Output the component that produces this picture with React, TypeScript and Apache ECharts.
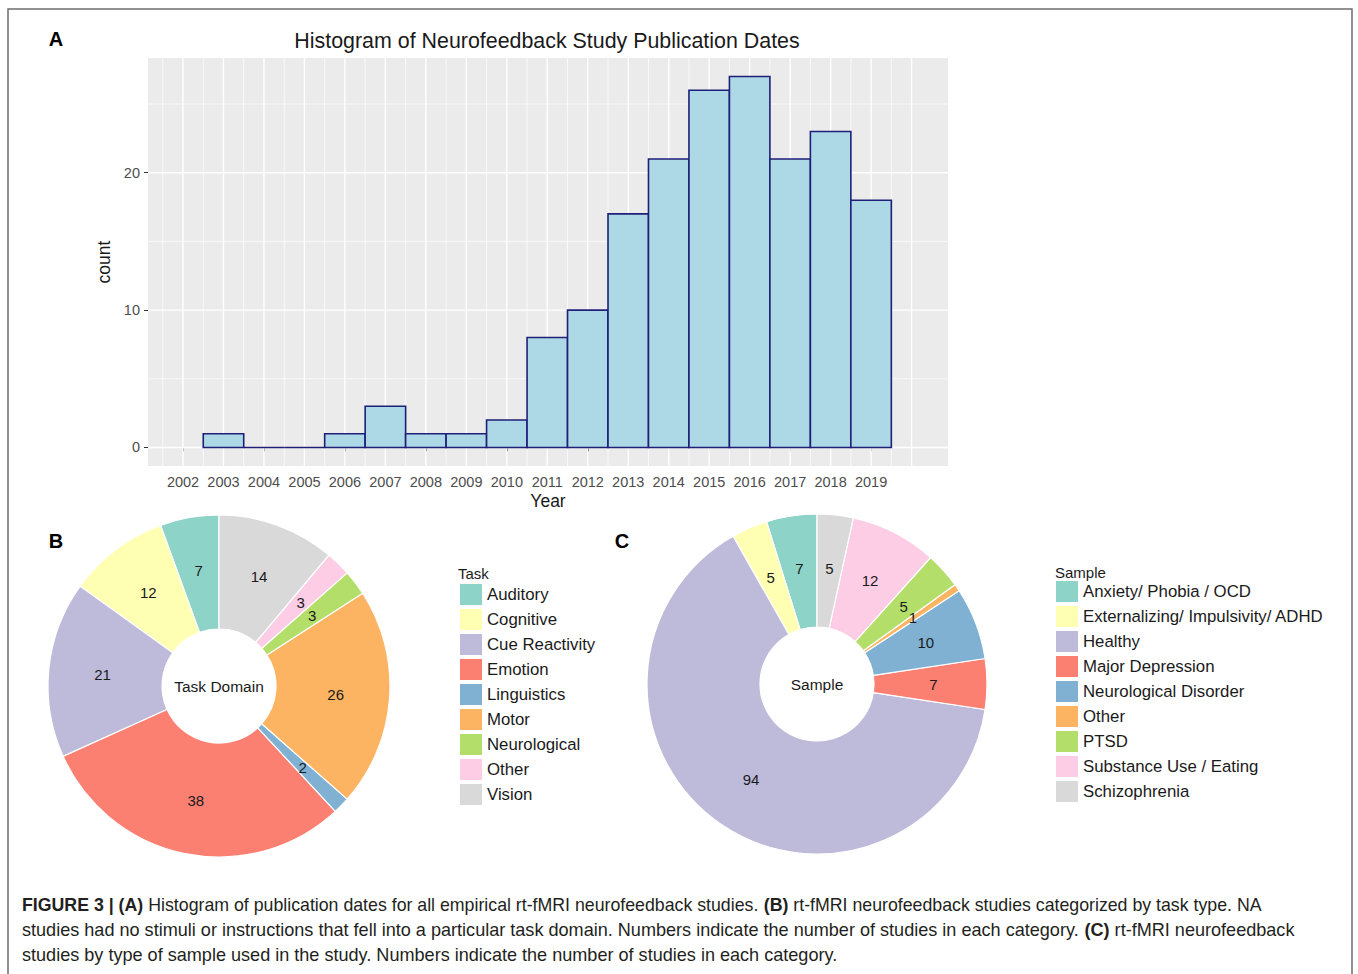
import React, { useEffect, useRef } from "react";
import * as echarts from "echarts";

// ---------- data ----------
const years = [2003, 2004, 2005, 2006, 2007, 2008, 2009, 2010, 2011, 2012, 2013, 2014, 2015, 2016, 2017, 2018, 2019];
const counts = [1, 0, 0, 1, 3, 1, 1, 2, 8, 10, 17, 21, 26, 27, 21, 23, 18];
const yearTickLabels = [2002, 2003, 2004, 2005, 2006, 2007, 2008, 2009, 2010, 2011, 2012, 2013, 2014, 2015, 2016, 2017, 2018, 2019];
const xMajorBreaks = [2002, 2003, 2004, 2005, 2006, 2007, 2008, 2009, 2010, 2011, 2012, 2013, 2014, 2015, 2016, 2017, 2018, 2019, 2020];
const xMinorBreaks = [2001.5, 2002.5, 2003.5, 2004.5, 2005.5, 2006.5, 2007.5, 2008.5, 2009.5, 2010.5, 2011.5, 2012.5, 2013.5, 2014.5, 2015.5, 2016.5, 2017.5, 2018.5, 2019.5];
const yTickLabels = [0, 10, 20];
const yMinorBreaks = [5, 15, 25];

const taskNames = ["Auditory", "Cognitive", "Cue Reactivity", "Emotion", "Linguistics", "Motor", "Neurological", "Other", "Vision"];
const taskCounts = [7, 12, 21, 38, 2, 26, 3, 3, 14];

const sampleNames = [
  "Anxiety/ Phobia / OCD",
  "Externalizing/ Impulsivity/ ADHD",
  "Healthy",
  "Major Depression",
  "Neurological Disorder",
  "Other",
  "PTSD",
  "Substance Use / Eating",
  "Schizophrenia",
];
const sampleCounts = [7, 5, 94, 7, 10, 1, 5, 12, 5];

const set3 = ["#8DD3C7", "#FFFFB3", "#BEBADA", "#FB8072", "#80B1D3", "#FDB462", "#B3DE69", "#FCCDE5", "#D9D9D9"];

const captionLines: [string, boolean][][] = [
  [
    ["FIGURE 3 | (A)", true],
    [" Histogram of publication dates for all empirical rt-fMRI neurofeedback studies. ", false],
    ["(B)", true],
    [" rt-fMRI neurofeedback studies categorized by task type. NA", false],
  ],
  [
    ["studies had no stimuli or instructions that fell into a particular task domain. Numbers indicate the number of studies in each category. ", false],
    ["(C)", true],
    [" rt-fMRI neurofeedback", false],
  ],
  [["studies by type of sample used in the study. Numbers indicate the number of studies in each category.", false]],
];
const captionWidths = [1240, 1272, 816];

const FONT = "'Liberation Sans', Arial, Helvetica, sans-serif";

export default function App() {
  const ref = useRef<HTMLDivElement | null>(null);

  useEffect(() => {
    if (!ref.current) return;
    const chart = echarts.init(ref.current, null, { renderer: "svg" });

    // caption horizontal condensing, measured
    const capSize = 18;
    const cv = document.createElement("canvas");
    const ctx = cv.getContext("2d")!;
    const measure = (segs: [string, boolean][]) =>
      segs.reduce((w, [t, b]) => {
        ctx.font = `${b ? "bold " : ""}${capSize}px ${FONT}`;
        return w + ctx.measureText(t).width;
      }, 0);

    const captionGraphics = captionLines.map((segs, i) => {
      const w = measure(segs);
      const s = w > 0 ? captionWidths[i] / w : 0.9;
      return {
        type: "text",
        x: 22,
        y: 905 + i * 25,
        scaleX: s,
        style: {
          text: segs.map(([t, b]) => (b ? `{b|${t}}` : t)).join(""),
          fill: "#231F20",
          fontSize: capSize,
          fontFamily: FONT,
          verticalAlign: "middle",
          rich: {
            b: { fontWeight: "bold", fontSize: capSize, fontFamily: FONT, fill: "#231F20" },
          },
        },
      };
    });

    const vGrid = (data: number[], width: number) => ({
      type: "custom",
      silent: true,
      z: 1,
      data: data.map((v) => [v, 0]),
      renderItem: (params: any, api: any) => {
        const cs = params.coordSys;
        const x = api.coord([api.value(0), 0])[0];
        return {
          type: "line",
          shape: { x1: x, y1: cs.y, x2: x, y2: cs.y + cs.height },
          style: { stroke: "#FFFFFF", lineWidth: width },
        };
      },
    });
    const hGrid = (data: number[], width: number) => ({
      type: "custom",
      silent: true,
      z: 1,
      data: data.map((v) => [2010, v]),
      renderItem: (params: any, api: any) => {
        const cs = params.coordSys;
        const y = api.coord([2010, api.value(1)])[1];
        return {
          type: "line",
          shape: { x1: cs.x, y1: y, x2: cs.x + cs.width, y2: y },
          style: { stroke: "#FFFFFF", lineWidth: width },
        };
      },
    });

    const pieCommon = {
      type: "pie",
      startAngle: 90,
      clockwise: false,
      silent: true,
      avoidLabelOverlap: false,
      minShowLabelAngle: 0,
      emphasis: { disabled: true },
      itemStyle: { borderColor: "#FFFFFF", borderWidth: 1.2 },
      labelLine: { show: false },
      label: {
        show: true,
        position: "inside",
        formatter: "{c}",
        color: "#1A1A1A",
        fontSize: 15,
        fontFamily: FONT,
      },
    };

    const legendCommon = {
      orient: "vertical",
      icon: "rect",
      itemWidth: 22,
      itemHeight: 21,
      itemGap: 4,
      padding: 0,
      selectedMode: false,
      textStyle: { fontSize: 16.8, color: "#1A1A1A", fontFamily: FONT },
    };

    const option: any = {
      animation: false,
      backgroundColor: "#FFFFFF",
      textStyle: { fontFamily: FONT },
      grid: {
        left: 148,
        top: 58,
        width: 800,
        height: 408,
        show: true,
        backgroundColor: "#EBEBEB",
        borderWidth: 0,
      },
      xAxis: {
        type: "value",
        min: 2001.135,
        max: 2020.9,
        name: "Year",
        nameLocation: "middle",
        nameGap: 26,
        nameTextStyle: { fontSize: 17.5, color: "#1A1A1A", fontFamily: FONT },
        axisLine: { show: false },
        splitLine: { show: false },
        axisTick: { show: true, length: 4, lineStyle: { color: "#333333", width: 1 }, customValues: yearTickLabels },
        axisLabel: {
          color: "#4D4D4D",
          fontSize: 14.5,
          margin: 8,
          fontFamily: FONT,
          customValues: yearTickLabels,
          formatter: (v: number) => String(Math.round(v)),
        },
      },
      yAxis: {
        type: "value",
        min: -1.35,
        max: 28.35,
        name: "count",
        nameLocation: "middle",
        nameGap: 25,
        nameTextStyle: { fontSize: 17.5, color: "#1A1A1A", fontFamily: FONT },
        axisLine: { show: false },
        splitLine: { show: false },
        axisTick: { show: true, length: 4, lineStyle: { color: "#333333", width: 1 }, customValues: yTickLabels },
        axisLabel: {
          color: "#4D4D4D",
          fontSize: 14.5,
          margin: 8,
          fontFamily: FONT,
          customValues: yTickLabels,
          formatter: (v: number) => String(Math.round(v)),
        },
      },
      legend: [
        {
          ...legendCommon,
          left: 460,
          top: 584,
          data: taskNames.map((n, i) => ({ name: n, itemStyle: { color: set3[i], borderWidth: 0 } })),
        },
        {
          ...legendCommon,
          left: 1056,
          top: 581,
          data: sampleNames.map((n, i) => ({ name: n, itemStyle: { color: set3[i], borderWidth: 0 } })),
        },
      ],
      series: [
        vGrid(xMinorBreaks, 0.7),
        hGrid(yMinorBreaks, 0.7),
        vGrid(xMajorBreaks, 1.4),
        hGrid(yTickLabels, 1.4),
        {
          type: "custom",
          silent: true,
          z: 3,
          data: years.map((y, i) => [y, counts[i]]),
          renderItem: (params: any, api: any) => {
            const x = api.value(0);
            const c = api.value(1);
            const p0 = api.coord([x - 0.5, 0]);
            const p1 = api.coord([x + 0.5, c]);
            return {
              type: "polygon",
              shape: {
                points: [
                  [p0[0], p0[1]],
                  [p1[0], p0[1]],
                  [p1[0], p1[1]],
                  [p0[0], p1[1]],
                ],
              },
              style: { fill: "#ADD8E6", stroke: "#1F1F78", lineWidth: 1.6 },
            };
          },
        },
        {
          ...pieCommon,
          name: "Task",
          center: [219, 686],
          radius: [57, 171],
          data: taskNames.map((n, i) => ({ name: n, value: taskCounts[i], itemStyle: { color: set3[i] } })),
        },
        {
          ...pieCommon,
          name: "Sample",
          center: [817, 684],
          radius: [57, 170],
          data: sampleNames.map((n, i) => ({ name: n, value: sampleCounts[i], itemStyle: { color: set3[i] } })),
        },
      ],
      graphic: [
        {
          type: "rect",
          silent: true,
          shape: { x: 8, y: 9, width: 1344, height: 1000 },
          style: { fill: "none", stroke: "#6E6E6E", lineWidth: 1.5 },
        },
        {
          type: "text",
          x: 547,
          y: 41,
          style: {
            text: "Histogram of Neurofeedback Study Publication Dates",
            fill: "#1A1A1A",
            fontSize: 21.4,
            fontFamily: FONT,
            align: "center",
            verticalAlign: "middle",
          },
        },
        ...[
          ["A", 56, 39],
          ["B", 56, 541],
          ["C", 622, 541],
        ].map(([t, x, y]) => ({
          type: "text",
          x,
          y,
          style: {
            text: t,
            fill: "#000000",
            fontSize: 20,
            fontWeight: "bold",
            fontFamily: FONT,
            align: "center",
            verticalAlign: "middle",
          },
        })),
        {
          type: "text",
          x: 219,
          y: 686,
          style: { text: "Task Domain", fill: "#1A1A1A", fontSize: 15.5, fontFamily: FONT, align: "center", verticalAlign: "middle" },
        },
        {
          type: "text",
          x: 817,
          y: 684,
          style: { text: "Sample", fill: "#1A1A1A", fontSize: 15.5, fontFamily: FONT, align: "center", verticalAlign: "middle" },
        },
        {
          type: "text",
          x: 458,
          y: 573,
          style: { text: "Task", fill: "#1A1A1A", fontSize: 15, fontFamily: FONT, align: "left", verticalAlign: "middle" },
        },
        {
          type: "text",
          x: 1055,
          y: 572,
          style: { text: "Sample", fill: "#1A1A1A", fontSize: 15, fontFamily: FONT, align: "left", verticalAlign: "middle" },
        },
        ...captionGraphics,
      ],
    };

    chart.setOption(option);
    return () => chart.dispose();
  }, []);

  return (
    <div
      ref={ref}
      style={{ position: "fixed", left: 0, top: 0, width: 1358, height: 974, background: "#FFFFFF" }}
    />
  );
}
